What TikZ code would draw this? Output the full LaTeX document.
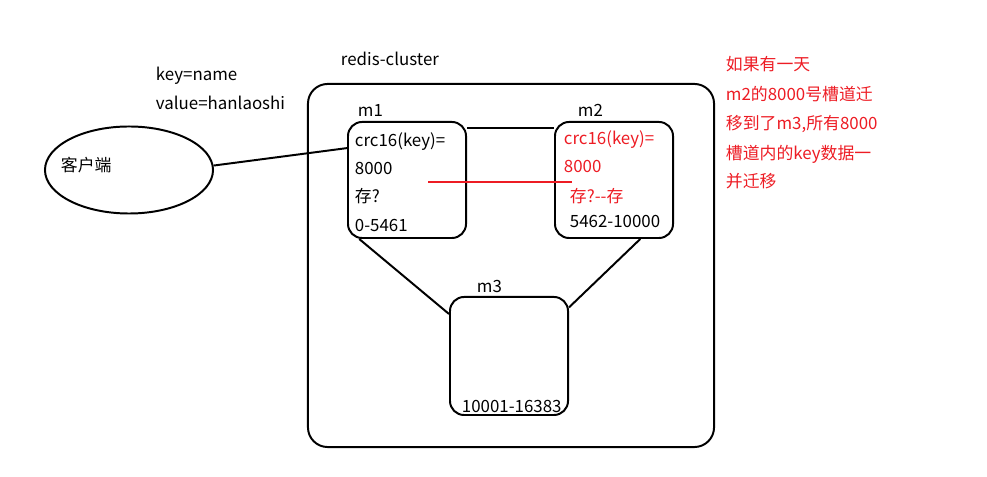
\documentclass[tikz,border=0pt]{standalone}
\usepackage{fontspec}
\setmainfont{Noto Sans CJK SC}
\usetikzlibrary{shapes.geometric}
\definecolor{paintred}{RGB}{237,28,36}
\tikzset{
  txt/.style = {anchor=base west, inner sep=0pt, font=\fontsize{12}{14}\selectfont},
  txt_r/.style = {txt, text=paintred},% texte rouge
  box_c/.style = {draw=black, line width=1.4pt, rounded corners=14pt,
    minimum width=10.15cm, minimum height=9.075cm},% cluster
  box_m/.style = {draw=black, line width=1.4pt, rounded corners=10pt,
    minimum width=2.95cm, minimum height=2.9cm},% noeud maitre
  box_e/.style = {draw=black, line width=1.4pt, ellipse,
    minimum width=4.2cm, minimum height=2.175cm}% client
}

\begin{document}
\begin{tikzpicture}[x=0.025cm,y=-0.025cm,line width=1.4pt]
  \useasboundingbox (0,0) rectangle (987,477);
  \node [box_c] (cluster) at (511,265.5) {};
  \node [box_m] (m1) at (407,180) {};
  \node [box_m] (m2) at (614,180) {};
  \node [box_m, minimum height=2.95cm] (m3) at (509,356) {};
  \node [box_e] (client) at (129,170) {};

  \node [txt] (lclust) at (340,66) {redis-cluster};
  \node [txt] (lkey) at (155,81) {key=name};
  \node [txt] (lval) at (155,110) {value=hanlaoshi};
  \node [txt] (lclient) at (60,172) {客户端};

  \node [txt] (lm1) at (357,117) {m1};
  \node [txt] (m1a) at (354,147) {crc16(key)=};
  \node [txt] (m1b) at (354,175) {8000};
  \node [txt] (m1c) at (354,203) {存?};
  \node [txt] (m1d) at (354,232) {0-5461};

  \node [txt] (lm2) at (577,117) {m2};
  \node [txt_r] (m2a) at (563,145) {crc16(key)=};
  \node [txt_r] (m2b) at (563,173) {8000};
  \node [txt_r] (m2c) at (569,203) {存?-{}-存};
  \node [txt] (m2d) at (569,228) {5462-10000};

  \node [txt] (lm3) at (476,293) {m3};
  \node [txt] (m3a) at (461,413) {10001-16383};

  \node [txt_r] (n1) at (725,71) {如果有一天};
  \node [txt_r] (n2) at (725,101) {m2的8000号槽道迁};
  \node [txt_r] (n3) at (725,130) {移到了m3,所有8000};
  \node [txt_r] (n4) at (725,160) {槽道内的key数据一};
  \node [txt_r] (n5) at (725,188) {并迁移};

  \foreach \from/\to in {m1.41/m2.139,m1.231/m3.145,m2.294/m3.39,client.3/m1.152}
    \draw (\from) -- (\to);

  \coordinate (r1) at (428,182);
  \coordinate (r2) at (572,182);
  \draw [paintred] (r1) -- (r2);
\end{tikzpicture}
\end{document}
